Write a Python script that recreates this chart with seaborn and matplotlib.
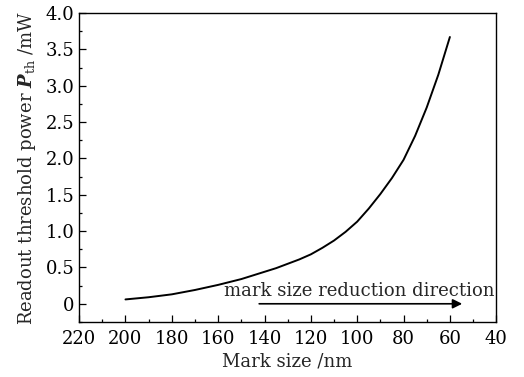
import matplotlib
matplotlib.use("Agg")
import matplotlib.pyplot as plt
from matplotlib.ticker import MultipleLocator
import seaborn as sns
import pandas as pd

mark_size = [200, 195, 190, 185, 180, 175, 170, 165, 160, 155, 150, 145, 140, 135, 130,
             125, 120, 115, 110, 105, 100, 95, 90, 85, 80, 75, 70, 65, 60]
threshold_power = [0.06, 0.075, 0.09, 0.11, 0.13, 0.16, 0.19, 0.225, 0.26, 0.30, 0.34, 0.39, 0.44, 0.49, 0.55,
                   0.61, 0.68, 0.77, 0.87, 0.99, 1.13, 1.31, 1.51, 1.73, 1.98, 2.31, 2.70, 3.15, 3.67]

x_ticks = [220, 200, 180, 160, 140, 120, 100, 80, 60, 40]
y_ticks = [0, 0.5, 1.0, 1.5, 2.0, 2.5, 3.0, 3.5, 4.0]
y_tick_labels = ["0", "0.5", "1.0", "1.5", "2.0", "2.5", "3.0", "3.5", "4.0"]

annotation = "mark size reduction direction"
x_label = "Mark size /nm"
y_label = r"Readout threshold power $\mathbfit{P}_{\rm th}$ /mW"

sns.set_style("ticks")
plt.rcParams["font.family"] = ["DejaVu Serif"]
plt.rcParams["mathtext.fontset"] = "dejavuserif"

df = pd.DataFrame({"size": mark_size, "power": threshold_power})

fig = plt.figure(figsize=(5.24, 3.77), dpi=100)
ax = fig.add_axes([0.151, 0.146, 0.796, 0.8195])
sns.lineplot(data=df, x="size", y="power", ax=ax, color="black", linewidth=1.4)

ax.set_xlim(220, 40)
ax.set_ylim(-0.25, 4.0)
ax.set_xticks(x_ticks)
ax.set_yticks(y_ticks)
ax.set_yticklabels(y_tick_labels)
ax.xaxis.set_minor_locator(MultipleLocator(10))
ax.yaxis.set_minor_locator(MultipleLocator(0.25))
ax.tick_params(which="both", direction="in", top=False, right=False, labelsize=13, colors="black", width=0.9)
ax.tick_params(which="major", length=5)
ax.tick_params(which="minor", length=2.5)
ax.tick_params(axis="x", which="major", pad=6)
for s in ax.spines.values():
    s.set_color("black")
    s.set_linewidth(1.0)

ax.set_xlabel(x_label, fontsize=13, labelpad=3)
ax.set_ylabel(y_label, fontsize=13, labelpad=5)

ax.annotate("", xy=(53.5, 0.0), xytext=(143.5, 0.0),
            arrowprops=dict(arrowstyle="-|>", color="black", lw=1.2, mutation_scale=14))
ax.text(157.5, 0.17, annotation, fontsize=13, va="center", ha="left")

fig.savefig("out.png", dpi=100)
